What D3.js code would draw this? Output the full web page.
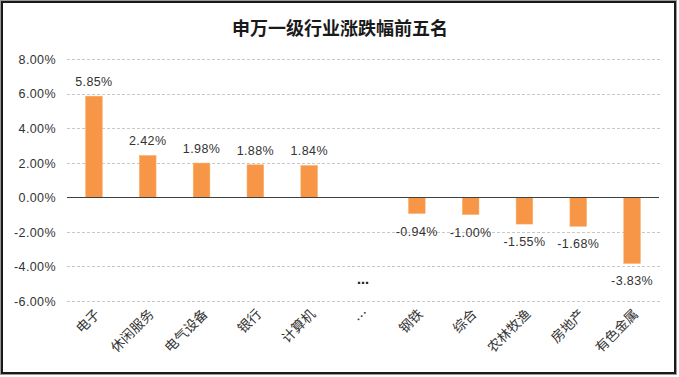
<!DOCTYPE html>
<html><head><meta charset="utf-8">
<script src="https://cdn.jsdelivr.net/npm/d3@7/dist/d3.min.js"></script>
<style>
html,body{margin:0;padding:0;background:#fff;}
svg{display:block;}
</style></head>
<body>
<svg id="chart" width="679" height="377"></svg>
<script>
const title = "申万一级行业涨跌幅前五名";
const categories = ["电子","休闲服务","电气设备","银行","计算机","…","钢铁","综合","农林牧渔","房地产","有色金属"];
const values = [5.85, 2.42, 1.98, 1.88, 1.84, null, -0.94, -1.00, -1.55, -1.68, -3.83];
const yTicks = [8, 6, 4, 2, 0, -2, -4, -6];
const gapMarkValue = -5; // the "…" mark sits in the gap column

const svg = d3.select("#chart");
const W = 679, H = 377;
const pct = v => d3.format(".2f")(v).replace("\u2212","-") + "%";

// outer frame
svg.append("rect").attr("x",0.5).attr("y",0.5).attr("width",W-3).attr("height",H-3)
  .attr("fill","none").attr("stroke","#9a9a9a").attr("stroke-width",1);
svg.append("rect").attr("x",2).attr("y",2).attr("width",W-6).attr("height",H-6)
  .attr("fill","none").attr("stroke","#1a1a1a").attr("stroke-width",2);

svg.append("text").attr("x",340).attr("y",35)
  .attr("text-anchor","middle")
  .attr("font-family","'Noto Sans CJK SC', sans-serif")
  .attr("font-weight",700).attr("font-size",18).attr("fill","#1a1a1a")
  .text(title);

const x = d3.scaleBand().domain(categories).range([67, 659]).paddingInner(0.69).paddingOuter(0.345);
const y = d3.scaleLinear().domain([-6, 8]).range([301, 59]);

// gridlines
svg.append("g").selectAll("line").data(yTicks.filter(d=>d!==0)).join("line")
  .attr("x1",67).attr("x2",660)
  .attr("y1",d=>Math.round(y(d))+0.5).attr("y2",d=>Math.round(y(d))+0.5)
  .attr("stroke","#c8c8c8").attr("stroke-width",1).attr("stroke-dasharray","3,2");

// y axis labels
const yAxis = d3.axisLeft(y).tickValues(yTicks).tickSize(0).tickPadding(0).tickFormat(pct);
const gy = svg.append("g").attr("transform","translate(56,0)").call(yAxis);
gy.select(".domain").remove();
gy.selectAll("text").attr("font-family","'Liberation Sans', sans-serif")
  .attr("font-size",12.5).attr("letter-spacing","0.4px").attr("fill","#333").attr("dy","0.35em");

const rows = categories.map((c,i)=>({c,v:values[i]})).filter(d=>d.v!==null);

// bars
svg.append("g").selectAll("rect").data(rows).join("rect")
  .attr("x",d=>x(d.c)).attr("width",x.bandwidth())
  .attr("y",d=>y(Math.max(0,d.v))).attr("height",d=>Math.abs(y(d.v)-y(0)))
  .attr("fill","#F79646").attr("stroke","#F7B26A").attr("stroke-width",0.5);

// zero line
svg.append("line").attr("x1",67).attr("x2",659).attr("y1",Math.round(y(0))+0.5).attr("y2",Math.round(y(0))+0.5)
  .attr("stroke","#404040").attr("stroke-width",1);

// data labels
svg.append("g").selectAll("text").data(rows).join("text")
  .attr("x",d=>x(d.c)+x.bandwidth()/2)
  .attr("y",d=>d.v>=0 ? y(d.v)-10 : y(d.v)+22)
  .attr("text-anchor","middle")
  .attr("font-family","'Liberation Sans', sans-serif").attr("font-size",12.5).attr("letter-spacing","0.4px")
  .attr("fill","#333")
  .text(d=>pct(d.v));

// gap mark
svg.append("text").attr("x",x("…")+x.bandwidth()/2).attr("y",y(gapMarkValue))
  .attr("text-anchor","middle").attr("font-family","'DejaVu Sans', sans-serif")
  .attr("font-weight",700).attr("font-size",12).attr("fill","#222").text("…");

// x labels
svg.append("g").selectAll("text").data(categories).join("text")
  .attr("transform",d=>`translate(${x(d)+x.bandwidth()/2+7},${315}) rotate(-45)`)
  .attr("text-anchor","end")
  .attr("font-family","'Noto Sans CJK SC', sans-serif").attr("font-size",13.5).attr("fill","#333")
  .text(d=>d);
</script>
</body></html>
